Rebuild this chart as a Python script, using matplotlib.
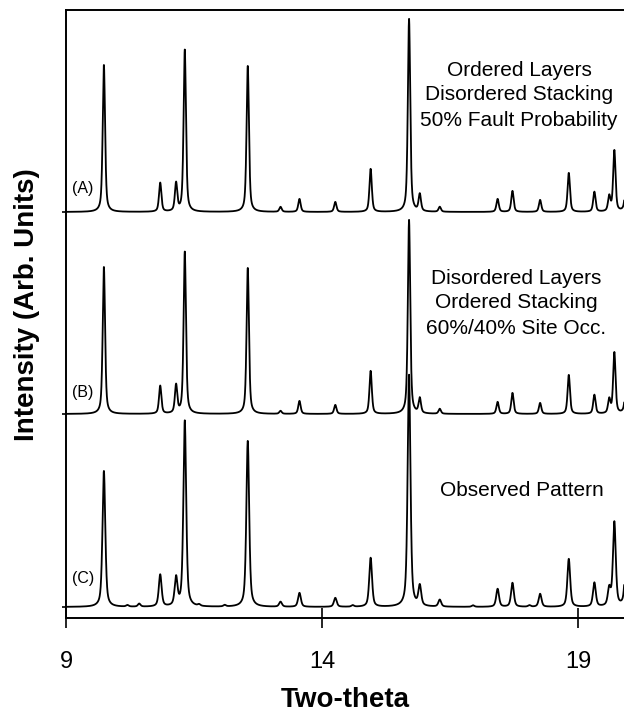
import numpy as np
import matplotlib.pyplot as plt

plt.rcParams['font.family'] = ['Liberation Sans', 'DejaVu Sans']

# peak positions (two-theta) shared by the three patterns
peak_pos = [9.74, 10.84, 11.15, 11.32, 12.55, 13.19, 13.56, 14.26, 14.95, 15.70,
            15.91, 16.30, 17.43, 17.72, 18.26, 18.82, 19.32, 19.61, 19.71, 19.95]
# peak heights (arb. units) for each pattern
heights_a = [147, 29, 28, 162, 146, 5, 13, 10, 43, 193, 17, 5, 13, 21, 12, 39, 20, 15, 61, 60]
heights_b = [147, 28, 28, 162, 146, 3, 13, 9, 43, 194, 15, 5, 12, 21, 11, 39, 19, 14, 61, 60]
heights_c = [136, 32, 28, 186, 166, 5, 14, 9, 49, 232, 20, 7, 18, 24, 13, 48, 24, 17, 84, 80]
# weak extra bumps seen only in the observed pattern
extra_pos_c = [10.20, 10.43, 11.60, 12.10, 14.60, 16.95, 18.05]
extra_h_c = [1.5, 3, 1.5, 1.5, 1.5, 1.5, 1.5]

offsets = {'A': 406, 'B': 204, 'C': 11}
labels = {'A': '(A)', 'B': '(B)', 'C': '(C)'}
label_y = {'A': 429, 'B': 226, 'C': 39}
notes = {
    'A': 'Ordered Layers\nDisordered Stacking\n50% Fault Probability',
    'B': 'Disordered Layers\nOrdered Stacking\n60%/40% Site Occ.',
    'C': 'Observed Pattern',
}
note_xy = {'A': (17.85, 523), 'B': (17.79, 315), 'C': (17.9, 127)}


def pattern(x, pos, hts, fwhm):
    y = np.zeros_like(x)
    g = fwhm / 2.0
    for p, h in zip(pos, hts):
        lor = g**2 / ((x - p)**2 + g**2)
        gau = np.exp(-np.log(2) * ((x - p) / g)**2)
        y += h * (0.55 * lor + 0.45 * gau)
    return y


x = np.linspace(8.9, 20.1, 6000)
ya = pattern(x, peak_pos, heights_a, 0.055)
yb = pattern(x, peak_pos, heights_b, 0.055)
yc = pattern(x, peak_pos, heights_c, 0.065) + pattern(x, extra_pos_c, extra_h_c, 0.06)

fig = plt.figure(figsize=(6.24, 7.16), dpi=100)
ax = fig.add_axes([66 / 624, 98 / 716, 558 / 624, 608 / 716])

for key, y in (('A', ya), ('B', yb), ('C', yc)):
    ax.plot(x, y + offsets[key], color='black', lw=1.3)
    ax.text(9.12, label_y[key], labels[key], fontsize=11.5, ha='left', va='center')
    nx, ny = note_xy[key]
    ax.text(nx, ny, notes[key], fontsize=15, ha='center', va='center',
            linespacing=1.4)

ax.set_xlim(9, 9 + 558 / 51.2)
ax.set_ylim(0, 608)
ax.set_xticks([9, 14, 19])
ax.set_yticks(list(offsets.values()))
ax.set_yticklabels([])
ax.tick_params(axis='x', direction='inout', length=14, width=1.2, labelsize=17, pad=17)
ax.tick_params(axis='y', direction='out', length=3, width=1.2)
ax.spines['right'].set_visible(False)
for s in ('left', 'bottom', 'top'):
    ax.spines[s].set_linewidth(1.4)

ax.set_xlabel('Two-theta', fontsize=20, fontweight='bold', labelpad=10)
ax.set_ylabel('Intensity (Arb. Units)', fontsize=20, fontweight='bold')
ax.yaxis.set_label_coords(-0.046, 0.515)

fig.savefig('out.png', dpi=100)
